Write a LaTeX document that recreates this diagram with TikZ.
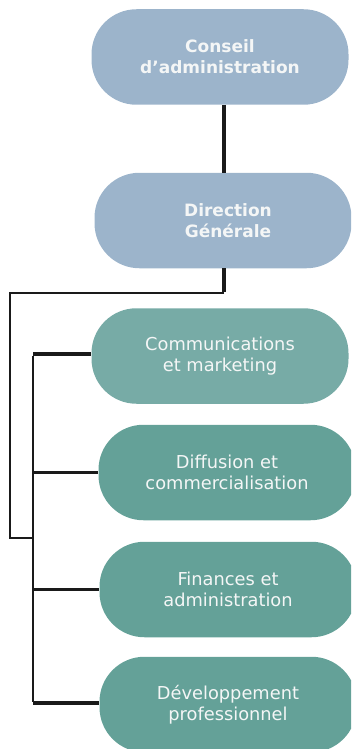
\documentclass[tikz,border=0pt]{standalone}
\usepackage{fontspec}
\setmainfont{DejaVu Sans}
\definecolor{boxblue}{HTML}{9CB4CB}
\definecolor{boxteal}{HTML}{77ABA6}
\definecolor{boxgreen}{HTML}{64A198}
\definecolor{linec}{HTML}{1A1A1A}
\definecolor{txt}{HTML}{F4F6F6}
\begin{document}
\begin{tikzpicture}[x=1pt,y=-1pt,
  pill/.style={draw=none, rounded corners=45pt, minimum width=257pt, minimum height=95.5pt,
    inner sep=0pt, align=center, text=txt},
  topbox/.style={pill, fill=boxblue, font=\bfseries\fontsize{17}{21}\selectfont},
  subbox/.style={pill, fill=boxgreen, font=\fontsize{17.8}{21.5}\selectfont},
  heavy/.style={draw=linec, line width=4.5pt},
  branch/.style={draw=linec, line width=3.2pt},
  thinl/.style={draw=linec, line width=2.2pt}]
\useasboundingbox (0,0) rectangle (351,749);
\begin{scope}
\clip (0,0) rectangle (351,749);
\node[topbox] (ca) at (220,57) {Conseil\\d’administration};
\node[topbox] (dg) at (223,220.5) {\hspace*{10pt}Direction\\\hspace*{10pt}Générale};
\node[subbox, fill=boxteal] (cm) at (220,356) {Communications\\et marketing};
\node[subbox] (df) at (227,472.5) {Diffusion et\\commercialisation};
\node[subbox] (fa) at (228,589.5) {Finances et\\administration};
\node[subbox] (dv) at (228,704.5) {Développement\\professionnel};

\coordinate (j1) at (224,293);
\coordinate (b1) at (10,293);
\coordinate (b2) at (10,538);
\coordinate (b3) at (33,538);
\coordinate (bustop) at (33,354);
\coordinate (busbot) at (33,703);

\draw[heavy] (ca.south -| j1) -- (dg.north -| j1);
\draw[heavy] (dg.south -| j1) -- ([yshift=1pt]j1);
\draw[thinl] (j1) -- (b1) -- (b2) -- (b3);
\draw[thinl] ([yshift=-1.5pt]bustop) -- ([yshift=1.5pt]busbot);
\draw[branch] (bustop) -- (bustop -| cm.west);
\draw[branch] (bustop |- df.west) -- (df.west);
\draw[branch] (bustop |- fa.west) -- (fa.west);
\draw[branch] (busbot) -- (busbot -| dv.west);
\end{scope}
\end{tikzpicture}
\end{document}
